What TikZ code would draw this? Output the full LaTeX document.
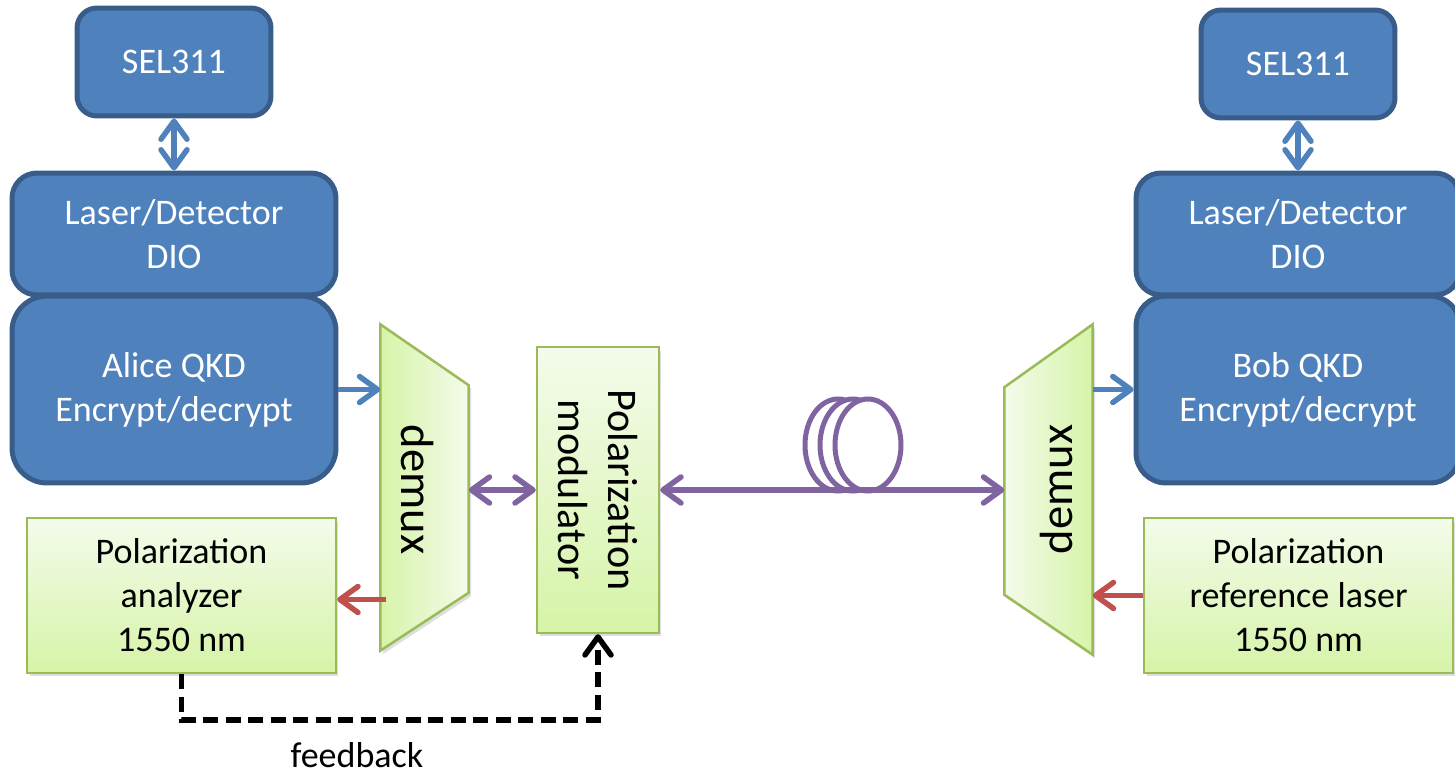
\documentclass[tikz,border=0pt]{standalone}
\usepackage{fontspec}
\setmainfont{Carlito}
\usetikzlibrary{arrows.meta,calc,shadows}

\definecolor{boxblue}{RGB}{79,129,189}
\definecolor{edgeblue}{RGB}{56,93,138}
\definecolor{greenedge}{RGB}{155,187,89}
\definecolor{greentop}{RGB}{244,251,235}
\definecolor{greenbot}{RGB}{214,244,168}
\definecolor{fiberpurple}{RGB}{128,100,162}
\definecolor{arrowred}{RGB}{192,80,77}

\begin{document}
\begin{tikzpicture}[x=0.02cm, y=-0.02cm, line width=0.11cm,
    bluebox/.style={draw=edgeblue, line width=0.1cm, fill=boxblue, text=white, align=center,
        inner sep=0pt, font=\fontsize{20.5}{25}\selectfont},
    greenbox/.style={draw=greenedge, line width=0.05cm, top color=greentop,
        bottom color=greenbot, align=center, inner sep=0pt,
        font=\fontsize{20.5}{25}\selectfont,
        drop shadow={shadow xshift=0.05cm, shadow yshift=-0.07cm, opacity=0.25}},
    onearrow/.style={-{Straight Barb[length=0.36cm, width=0.52cm, round]}},
    twoarrow/.style={{Straight Barb[length=0.36cm, width=0.52cm, round]}-{Straight Barb[length=0.36cm, width=0.52cm, round]}}]

    \useasboundingbox (0,0) rectangle (1455,777);

    % -- Parte Sinistra: Alice --
    \node[bluebox, rounded corners=0.4cm, minimum width=3.88cm, minimum height=2.16cm] (selA) at (174,62) {SEL311};
    \node[bluebox, rounded corners=0.5cm, minimum width=6.48cm, minimum height=2.44cm] (laserA) at (174,234) {Laser/Detector\\DIO};
    \node[bluebox, rounded corners=0.7cm, minimum width=6.48cm, minimum height=3.74cm] (aliceA) at (174,389.5) {Alice QKD\\Encrypt/decrypt};
    \node[greenbox, minimum width=6.18cm, minimum height=3.1cm] (analyzer) at (181.5,595.5) {Polarization\\analyzer\\1550 nm};

    % demux di sinistra (trapezio)
    \node[minimum width=1.66cm, minimum height=6.42cm, inner sep=0pt] (demuxL) at (424.5,487.5) {};
    \path[draw=greenedge, line width=0.05cm, left color=greenbot, right color=greentop,
          drop shadow={shadow xshift=0.05cm, shadow yshift=-0.07cm, opacity=0.25}]
        (demuxL.north west) -- ($(demuxL.north east)+(0,61)$)
        -- ($(demuxL.south east)+(0,-58)$) -- (demuxL.south west) -- cycle;
    \node[rotate=-90, font=\fontsize{26.5}{30}\selectfont] (demuxLtxt) at ($(demuxL.center)+(-7,2)$) {demux};

    % modulatore
    \node[greenbox, minimum width=2.44cm, minimum height=5.72cm,
          label={[rotate=-90, align=center, font=\fontsize{24}{28}\selectfont]center:Polarization\\modulator}] (modulator) at (598,490) {};

    % -- Parte Destra: Bob --
    \node[bluebox, rounded corners=0.4cm, minimum width=3.88cm, minimum height=2.16cm] (selB) at (1298,64) {SEL311};
    \node[bluebox, rounded corners=0.5cm, minimum width=6.48cm, minimum height=2.44cm] (laserB) at (1298,234) {Laser/Detector\\DIO};
    \node[bluebox, rounded corners=0.6cm, minimum width=6.48cm, minimum height=3.74cm] (bobB) at (1298,389.5) {Bob QKD\\Encrypt/decrypt};
    \node[greenbox, minimum width=6.18cm, minimum height=3.1cm] (refLaser) at (1298.5,595.5) {Polarization\\reference laser\\1550 nm};

    % demux di destra (trapezio)
    \node[minimum width=1.66cm, minimum height=6.5cm, inner sep=0pt] (demuxR) at (1048.5,489.5) {};
    \path[draw=greenedge, line width=0.05cm, left color=greentop, right color=greenbot,
          drop shadow={shadow xshift=0.05cm, shadow yshift=-0.07cm, opacity=0.25}]
        (demuxR.north east) -- (demuxR.south east)
        -- ($(demuxR.south west)+(0,-60)$) -- ($(demuxR.north west)+(0,63)$) -- cycle;
    \node[rotate=90, font=\fontsize{26.5}{30}\selectfont] (demuxRtxt) at ($(demuxR.center)+(8,0)$) {demux};

    % -- Parte Centrale: fibra --
    \foreach \cx in {838,853,868}
        \draw[fiberpurple, line width=0.1cm, fill=white] (\cx,445) ellipse [x radius=33, y radius=46];

    % -- Frecce --
    \draw[boxblue, twoarrow] (selA.south) -- (laserA.north);
    \draw[boxblue, twoarrow] (selB.south) -- (laserB.north);
    \draw[boxblue, onearrow] (aliceA.east) -- (aliceA.east -| demuxL.west);
    \draw[boxblue, onearrow] (demuxR.east |- bobB.west) -- (bobB.west);
    \draw[arrowred, onearrow] ($(demuxL.west |- analyzer.east)+(6,4)$) -- ($(analyzer.east)+(0,4)$);
    \draw[arrowred, onearrow] (refLaser.west) -- (refLaser.west -| demuxR.east);
    \draw[fiberpurple, twoarrow] (demuxL.east |- modulator.west) -- (modulator.west);
    \draw[fiberpurple, twoarrow] (modulator.east) -- (modulator.east -| demuxR.west);

    % retroazione
    \coordinate (fbline) at (0,720);
    \draw[black, line width=0.11cm, onearrow, dash pattern=on 0.3cm off 0.15cm]
        (analyzer.south) |- (fbline -| modulator.south) -- (modulator.south);
    \node[font=\fontsize{20.5}{25}\selectfont] (fbLabel) at (357,755) {feedback};
\end{tikzpicture}
\end{document}
